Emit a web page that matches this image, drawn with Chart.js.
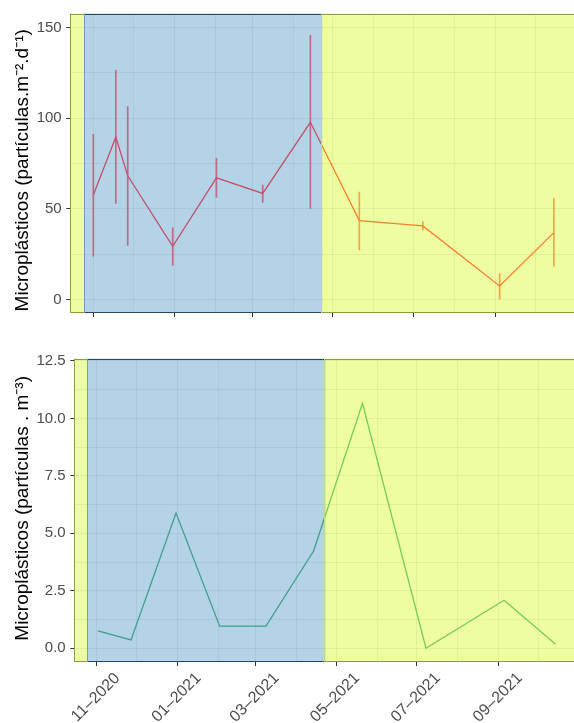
<!DOCTYPE html>
<html>
<head>
<meta charset="utf-8">
<script src="https://cdn.jsdelivr.net/npm/chart.js@4.4.1/dist/chart.umd.min.js"></script>
<style>
  html, body { margin: 0; padding: 0; background: #ffffff; }
  #wrap { position: relative; width: 574px; height: 723px; overflow: hidden; }
  canvas { position: absolute; left: 0; }
</style>
</head>
<body>
<div id="wrap">
  <canvas id="deposition" width="574" height="340" style="top:0px"></canvas>
  <canvas id="column" width="574" height="383" style="top:340px"></canvas>
</div>
<script>
// Atmospheric deposition: mean with low / high range per sampling date
const depDates = ['2020-11-01', '2020-11-18', '2020-11-27', '2020-12-31', '2021-02-02', '2021-03-09',
                  '2021-04-14', '2021-05-21', '2021-07-08', '2021-09-04', '2021-10-15'];
const depMean  = [57.6, 89.6, 68.2, 29.3, 67.1, 58.5, 97.7, 43.5, 40.6, 7.5, 36.9];
const depLow   = [23.9, 53.0, 29.8, 18.8, 56.3, 53.6, 50.3, 27.4, 38.4, 0.3, 18.4];
const depHigh  = [91.1, 126.4, 106.3, 39.5, 77.9, 63.1, 145.6, 59.3, 42.8, 14.3, 55.6];

// Water column concentration per sampling date
const colDates  = ['2020-11-02', '2020-11-27', '2020-12-31', '2021-02-02', '2021-03-09',
                   '2021-04-14', '2021-05-21', '2021-07-08', '2021-09-05', '2021-10-14'];
const colValues = [0.75, 0.36, 5.88, 0.96, 0.96, 4.23, 10.66, 0.0, 2.09, 0.17];

// Rainy season window (shaded blue)
const wetSeason = ['2020-10-25', '2021-04-23'];

// Axis ticks
const monthTicks = ['2020-11-01', '2020-12-01', '2021-01-01', '2021-02-01', '2021-03-01', '2021-04-01',
                    '2021-05-01', '2021-06-01', '2021-07-01', '2021-08-01', '2021-09-01', '2021-10-01'];
const monthLabels = { '2020-11-01': '11–2020', '2021-01-01': '01–2021', '2021-03-01': '03–2021',
                      '2021-05-01': '05–2021', '2021-07-01': '07–2021', '2021-09-01': '09–2021' };
const depYTicks = [0, 50, 100, 150];
const colYTicks = [0, 2.5, 5, 7.5, 10, 12.5];

const depTitle = 'Microplásticos (partículas.m⁻².d⁻¹)';
const colTitle = 'Microplásticos (partículas . m⁻³)';

// ---------------------------------------------------------------------------
const FONT = "'Liberation Sans', Arial, Helvetica, sans-serif";
const YELLOW = '#eefda2';
const BLUE = '#b4d3e6';
const GRID = 'rgba(70, 80, 70, 0.08)';
const TICK = '#333333';
const TICK_TEXT = '#4d4d4d';

const ORIGIN = Date.UTC(2020, 10, 1);
function toDay(s) {
  const [y, m, d] = s.split('-').map(Number);
  return (Date.UTC(y, m - 1, d) - ORIGIN) / 86400000;
}
const wetStart = toDay(wetSeason[0]);
const wetEnd = toDay(wetSeason[1]);
const inWet = s => { const d = toDay(s); return d >= wetStart && d <= wetEnd; };
const labelledDays = new Set(Object.keys(monthLabels).map(toDay));

function withMidpoints(ticks) {
  const out = [];
  ticks.forEach((v, i) => {
    out.push(v);
    if (i < ticks.length - 1) out.push((v + ticks[i + 1]) / 2);
  });
  return out;
}

// Stroke that switches colour where the line crosses the season boundaries
function seasonStroke(wetColor, dryColor) {
  return (c) => {
    const chart = c.chart;
    const a = chart.chartArea;
    if (!a) return dryColor;
    const x = chart.scales.x;
    const f = v => Math.min(1, Math.max(0, (v - a.left) / (a.right - a.left)));
    const p0 = f(x.getPixelForValue(wetStart));
    const p1 = f(x.getPixelForValue(wetEnd));
    const g = chart.ctx.createLinearGradient(a.left, 0, a.right, 0);
    g.addColorStop(0, dryColor);
    g.addColorStop(p0, dryColor);
    g.addColorStop(p0, wetColor);
    g.addColorStop(p1, wetColor);
    g.addColorStop(p1, dryColor);
    g.addColorStop(1, dryColor);
    return g;
  };
}

// Panel background: dry season yellow, rainy season blue, plus outlines
const seasonPanel = {
  id: 'seasonPanel',
  beforeDraw(chart) {
    const { ctx, chartArea: a, scales: { x } } = chart;
    const xs = Math.max(a.left, x.getPixelForValue(wetStart));
    const xe = Math.min(a.right, x.getPixelForValue(wetEnd));
    ctx.save();
    ctx.fillStyle = YELLOW;
    ctx.fillRect(a.left, a.top, a.right - a.left, a.bottom - a.top);
    ctx.fillStyle = BLUE;
    ctx.fillRect(xs, a.top, xe - xs, a.bottom - a.top);
    ctx.restore();
  },
  afterDatasetsDraw(chart) {
    const { ctx, chartArea: a, scales: { x } } = chart;
    const xs = Math.max(a.left, x.getPixelForValue(wetStart));
    const xe = Math.min(a.right, x.getPixelForValue(wetEnd));
    const top = Math.round(a.top) + 0.5;
    const bot = Math.round(a.bottom) - 0.5;
    ctx.save();
    ctx.lineWidth = 1;
    const seg = (x1, y1, x2, y2, col) => {
      ctx.strokeStyle = col;
      ctx.beginPath(); ctx.moveTo(x1, y1); ctx.lineTo(x2, y2); ctx.stroke();
    };
    // dry season edges
    seg(a.left, top, xs, top, '#8c9c40');
    seg(a.left, bot, xs, bot, '#8c9c40');
    seg(xe, top, a.right, top, '#8c9c40');
    seg(xe, bot, a.right, bot, '#8c9c40');
    seg(Math.round(a.left) + 0.5, a.top, Math.round(a.left) + 0.5, a.bottom, '#8c9c40');
    // rainy season edges
    seg(xs, top, xe, top, '#23466e');
    seg(xs, bot, xe, bot, '#23466e');
    seg(Math.round(xs) + 0.5, a.top, Math.round(xs) + 0.5, a.bottom, '#6e9fcc');
    seg(Math.round(xe) - 0.5, a.top, Math.round(xe) - 0.5, a.bottom, '#bcd98c');
    ctx.restore();
  }
};

// Vertical axis title, centred on the panel with an optional nudge
const axisTitle = {
  id: 'axisTitle',
  afterDraw(chart, args, opts) {
    const { ctx, chartArea: a } = chart;
    ctx.save();
    ctx.fillStyle = '#000000';
    ctx.font = '19px ' + FONT;
    ctx.textAlign = 'center';
    ctx.textBaseline = 'middle';
    ctx.translate(opts.x, (a.top + a.bottom) / 2 + (opts.shift || 0));
    ctx.rotate(-Math.PI / 2);
    ctx.fillText(opts.text, 0, 0);
    ctx.restore();
  }
};

// Rotated month labels centred under their tick marks
const monthAxisLabels = {
  id: 'monthAxisLabels',
  afterDraw(chart) {
    const { ctx, chartArea: a, scales: { x } } = chart;
    ctx.save();
    ctx.fillStyle = TICK_TEXT;
    ctx.font = '16px ' + FONT;
    ctx.textAlign = 'center';
    ctx.textBaseline = 'middle';
    Object.entries(monthLabels).forEach(([d, label]) => {
      const px = x.getPixelForValue(toDay(d));
      ctx.save();
      ctx.translate(px - 0.8, a.bottom + 35.5);
      ctx.rotate(-Math.PI / 4);
      ctx.fillText(label, 0, 0);
      ctx.restore();
    });
    ctx.restore();
  }
};

function xScale(min, max, height) {
  return {
    type: 'linear', min, max, offset: false,
    afterBuildTicks: s => { s.ticks = monthTicks.map(m => ({ value: toDay(m) })); },
    afterFit: s => { s.height = height; },
    ticks: { display: false, autoSkip: false },
    grid: {
      offset: false, color: GRID, lineWidth: 1, drawTicks: true, tickLength: 4, tickWidth: 1,
      tickColor: c => (c.tick && labelledDays.has(c.tick.value)) ? TICK : 'rgba(0,0,0,0)'
    },
    border: { display: false }
  };
}

function yScale(min, max, ticks, fmt, width) {
  const grid = withMidpoints(ticks);
  const labelled = new Set(ticks);
  return {
    type: 'linear', min, max,
    afterBuildTicks: s => { s.ticks = grid.map(v => ({ value: v })); },
    afterFit: s => { s.width = width; },
    ticks: {
      autoSkip: false, padding: 4.6, color: TICK_TEXT,
      font: { family: FONT, size: 15 },
      callback: v => labelled.has(v) ? fmt(v) : ''
    },
    grid: {
      color: GRID, lineWidth: 1, drawTicks: true, tickLength: 4, tickWidth: 1,
      tickColor: c => (c.tick && labelled.has(c.tick.value)) ? TICK : 'rgba(0,0,0,0)'
    },
    border: { display: false }
  };
}

function baseOptions(padTop, title, titleShift) {
  return {
    responsive: false,
    animation: false,
    events: [],
    layout: { padding: { top: padTop, right: 0, left: 0, bottom: 0 } },
    plugins: {
      legend: { display: false }, tooltip: { enabled: false }, title: { display: false },
      axisTitle: { text: title, x: 23, shift: titleShift }
    }
  };
}

new Chart(document.getElementById('deposition'), {
  type: 'line',
  data: {
    datasets: [
      {
        type: 'line',
        data: depDates.map((d, i) => ({ x: toDay(d), y: depMean[i] })),
        borderColor: seasonStroke('#c24f6b', '#f1802c'),
        borderWidth: 1.3,
        pointRadius: 0,
        tension: 0,
        order: 0
      },
      {
        type: 'bar',
        data: depDates.map((d, i) => ({ x: toDay(d), y: [depLow[i], depHigh[i]] })),
        backgroundColor: depDates.map(d => inWet(d) ? 'rgba(194, 79, 107, 0.8)' : 'rgba(242, 135, 40, 0.75)'),
        borderWidth: 0,
        barThickness: 1,
        order: 1
      }
    ]
  },
  options: Object.assign(baseOptions(12, depTitle, 7), {
    scales: {
      x: xScale(-17.4, 363.2, 27),
      y: yScale(-7.4, 157.6, depYTicks, v => String(v), 70.3)
    }
  }),
  plugins: [seasonPanel, axisTitle]
});

new Chart(document.getElementById('column'), {
  type: 'line',
  data: {
    datasets: [
      {
        data: colDates.map((d, i) => ({ x: toDay(d), y: colValues[i] })),
        borderColor: seasonStroke('#3f9e8c', '#77cc55'),
        borderWidth: 1.3,
        pointRadius: 0,
        tension: 0
      }
    ]
  },
  options: Object.assign(baseOptions(18.7, colTitle, -2), {
    scales: {
      x: xScale(-16.9, 360.9, 61),
      y: yScale(-0.6, 12.6, colYTicks, v => v.toFixed(1), 74.3)
    }
  }),
  plugins: [seasonPanel, axisTitle, monthAxisLabels]
});
</script>
</body>
</html>
